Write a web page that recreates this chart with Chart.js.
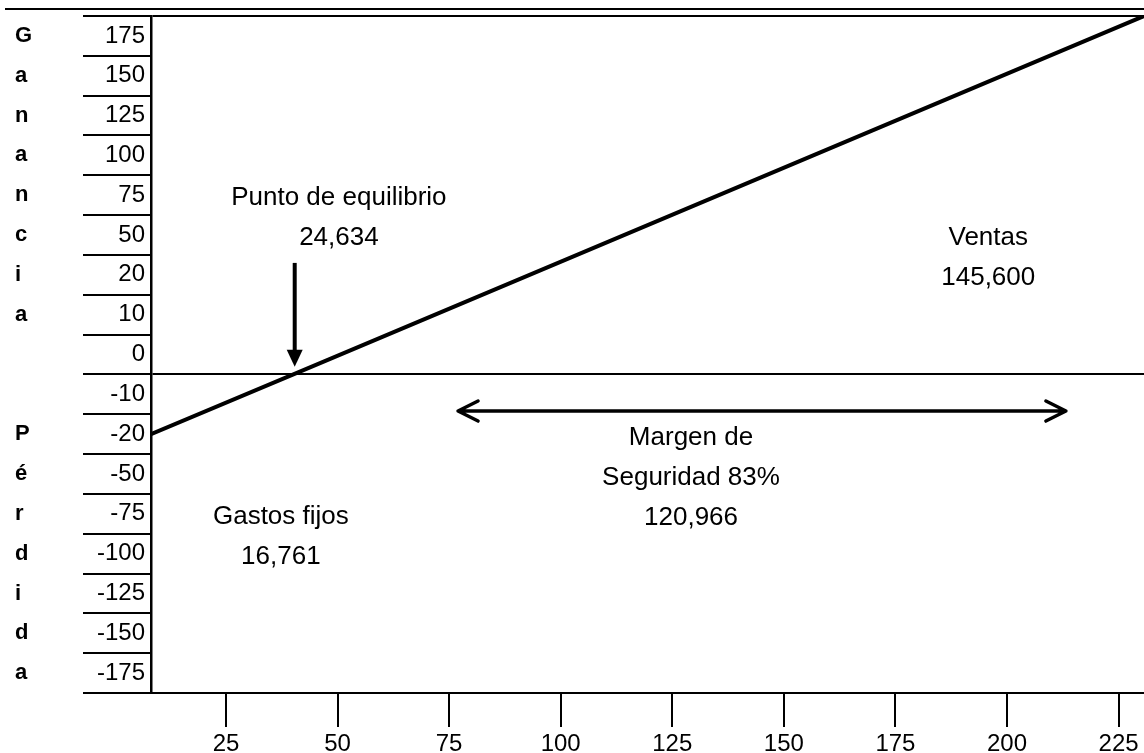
<!DOCTYPE html>
<html lang="es">
<head>
<meta charset="utf-8">
<title>Punto de equilibrio</title>
<script src="https://cdn.jsdelivr.net/npm/chart.js@4/dist/chart.umd.min.js"></script>
<style>
    html, body { margin: 0; padding: 0; background: #fff; }
    #breakEvenChart { display: block; }
</style>
</head>
<body>
<canvas id="breakEvenChart" width="1144" height="753"></canvas>
<script>
// Row labels of the profit/loss table, top to bottom
const rowLabels = ['175', '150', '125', '100', '75', '50', '20', '10', '0',
                   '-10', '-20', '-50', '-75', '-100', '-125', '-150', '-175'];
// "Ganancia" / "Pérdida" written down the side, one letter per row
const sideLetters = ['G', 'a', 'n', 'a', 'n', 'c', 'i', 'a', '',
                     '', 'P', 'é', 'r', 'd', 'i', 'd', 'a'];
const xTickValues = [25, 50, 75, 100, 125, 150, 175, 200, 225];

// Sales line, x in units, y in table rows (0 = break-even row line)
const salesX = [8.2, 40.1, 230.7];
const salesRow = [-1.5, 0, 9];

const breakEvenText = ['Punto de equilibrio', '24,634'];
const salesText = ['Ventas', '145,600'];
const marginText = ['Margen de', 'Seguridad 83%', '120,966'];
const fixedCostText = ['Gastos fijos', '16,761'];

const ROW_TOP = 9;
const ROW_BOTTOM = -8;
const FONT = '"Liberation Sans", Arial, sans-serif';

document.addEventListener('DOMContentLoaded', function() {
    // Text blocks and arrows drawn through the chart scales
    const notes = [
        { lines: breakEvenText, x: 50.3, row: 4.43 },
        { lines: salesText, x: 195.8, row: 3.43 },
        { lines: marginText, x: 129.2, row: -1.6 },
        { lines: fixedCostText, x: 37.3, row: -3.57 }
    ];

    const notesPlugin = {
        id: 'notes',
        afterDatasetsDraw(chart) {
            const ctx = chart.ctx;
            const xs = chart.scales.x;
            const ys = chart.scales.y;
            ctx.save();
            ctx.fillStyle = '#000';
            ctx.strokeStyle = '#000';
            ctx.font = '26px ' + FONT;
            ctx.textAlign = 'center';
            ctx.textBaseline = 'middle';
            notes.forEach(note => {
                note.lines.forEach((line, i) => {
                    ctx.fillText(line, xs.getPixelForValue(note.x), ys.getPixelForValue(note.row - i));
                });
            });

            // Break-even arrow
            const ax = xs.getPixelForValue(40.4);
            const ay1 = ys.getPixelForValue(2.8);
            const ay2 = ys.getPixelForValue(0.19);
            ctx.lineWidth = 4;
            ctx.beginPath();
            ctx.moveTo(ax, ay1);
            ctx.lineTo(ax, ay2 - 14);
            ctx.stroke();
            ctx.beginPath();
            ctx.moveTo(ax, ay2);
            ctx.lineTo(ax - 8, ay2 - 17);
            ctx.lineTo(ax + 8, ay2 - 17);
            ctx.closePath();
            ctx.fill();

            // Margin of safety double arrow
            const mx1 = xs.getPixelForValue(77.0);
            const mx2 = xs.getPixelForValue(213.2);
            const my = ys.getPixelForValue(-0.92);
            ctx.lineWidth = 3.5;
            ctx.lineCap = 'round';
            ctx.lineJoin = 'round';
            ctx.beginPath();
            ctx.moveTo(mx1, my);
            ctx.lineTo(mx2, my);
            ctx.moveTo(mx1 + 20, my - 10);
            ctx.lineTo(mx1, my);
            ctx.lineTo(mx1 + 20, my + 10);
            ctx.moveTo(mx2 - 20, my - 10);
            ctx.lineTo(mx2, my);
            ctx.lineTo(mx2 - 20, my + 10);
            ctx.stroke();
            ctx.restore();
        }
    };

    // Outer frame line above the table
    const framePlugin = {
        id: 'frame',
        afterDraw(chart) {
            const ctx = chart.ctx;
            const top = chart.chartArea.top - 7;
            ctx.save();
            ctx.strokeStyle = '#000';
            ctx.lineWidth = 2;
            ctx.beginPath();
            ctx.moveTo(5, top);
            ctx.lineTo(chart.width, top);
            ctx.stroke();
            ctx.restore();
        }
    };

    const rowTicks = function(withLines) {
        return function(scale) {
            const ticks = [];
            for (let v = ROW_BOTTOM; v <= ROW_TOP; v += 0.5) {
                if (withLines || !Number.isInteger(v)) ticks.push({ value: v });
            }
            scale.ticks = ticks;
        };
    };
    const rowIndex = value => Math.round(ROW_TOP - 0.5 - value);

    const breakEvenChart = new Chart(
        document.getElementById('breakEvenChart'),
        {
            type: 'line',
            data: {
                datasets: [{
                    data: salesX.map((x, i) => ({ x: x, y: salesRow[i] })),
                    borderColor: '#000',
                    borderWidth: 4,
                    pointRadius: 0,
                    tension: 0
                }]
            },
            options: {
                responsive: false,
                animation: false,
                layout: {
                    padding: { top: 16, left: 15, right: 0, bottom: 0 }
                },
                plugins: {
                    legend: { display: false },
                    tooltip: { enabled: false }
                },
                scales: {
                    x: {
                        type: 'linear',
                        min: 8.2,
                        max: 230.7,
                        afterBuildTicks: scale => {
                            scale.ticks = xTickValues.map(v => ({ value: v }));
                        },
                        afterFit: scale => { scale.height = 60; },
                        grid: {
                            drawOnChartArea: false,
                            tickLength: 34,
                            color: '#000',
                            lineWidth: 2
                        },
                        border: { color: '#000', width: 2 },
                        ticks: {
                            autoSkip: false,
                            maxRotation: 0,
                            padding: 3,
                            color: '#000',
                            font: { family: FONT, size: 24 },
                            callback: value => String(value)
                        }
                    },
                    y: {
                        type: 'linear',
                        position: 'left',
                        weight: 0,
                        min: ROW_BOTTOM,
                        max: ROW_TOP,
                        afterBuildTicks: rowTicks(true),
                        afterFit: scale => { scale.width = 68; },
                        grid: {
                            tickLength: 68,
                            lineWidth: 2,
                            tickWidth: 2,
                            color: ctx => (ctx.tick && (ctx.tick.value === 0 || ctx.tick.value === ROW_TOP)) ? '#000' : 'rgba(0,0,0,0)',
                            tickColor: ctx => (ctx.tick && Number.isInteger(ctx.tick.value)) ? '#000' : 'rgba(0,0,0,0)'
                        },
                        border: { display: true, color: '#000', width: 2.5 },
                        ticks: {
                            autoSkip: false,
                            padding: -62,
                            color: '#000',
                            font: { family: FONT, size: 24 },
                            callback: value => Number.isInteger(value) ? '' : rowLabels[rowIndex(value)]
                        }
                    },
                    side: {
                        type: 'linear',
                        position: 'left',
                        weight: 1,
                        min: ROW_BOTTOM,
                        max: ROW_TOP,
                        afterBuildTicks: rowTicks(false),
                        afterFit: scale => { scale.width = 68; },
                        grid: { display: false },
                        border: { display: false },
                        ticks: {
                            autoSkip: false,
                            padding: 0,
                            crossAlign: 'far',
                            color: '#000',
                            font: { family: FONT, size: 22, weight: 'bold' },
                            callback: value => sideLetters[rowIndex(value)]
                        }
                    }
                }
            },
            plugins: [notesPlugin, framePlugin]
        }
    );
});
</script>
</body>
</html>
